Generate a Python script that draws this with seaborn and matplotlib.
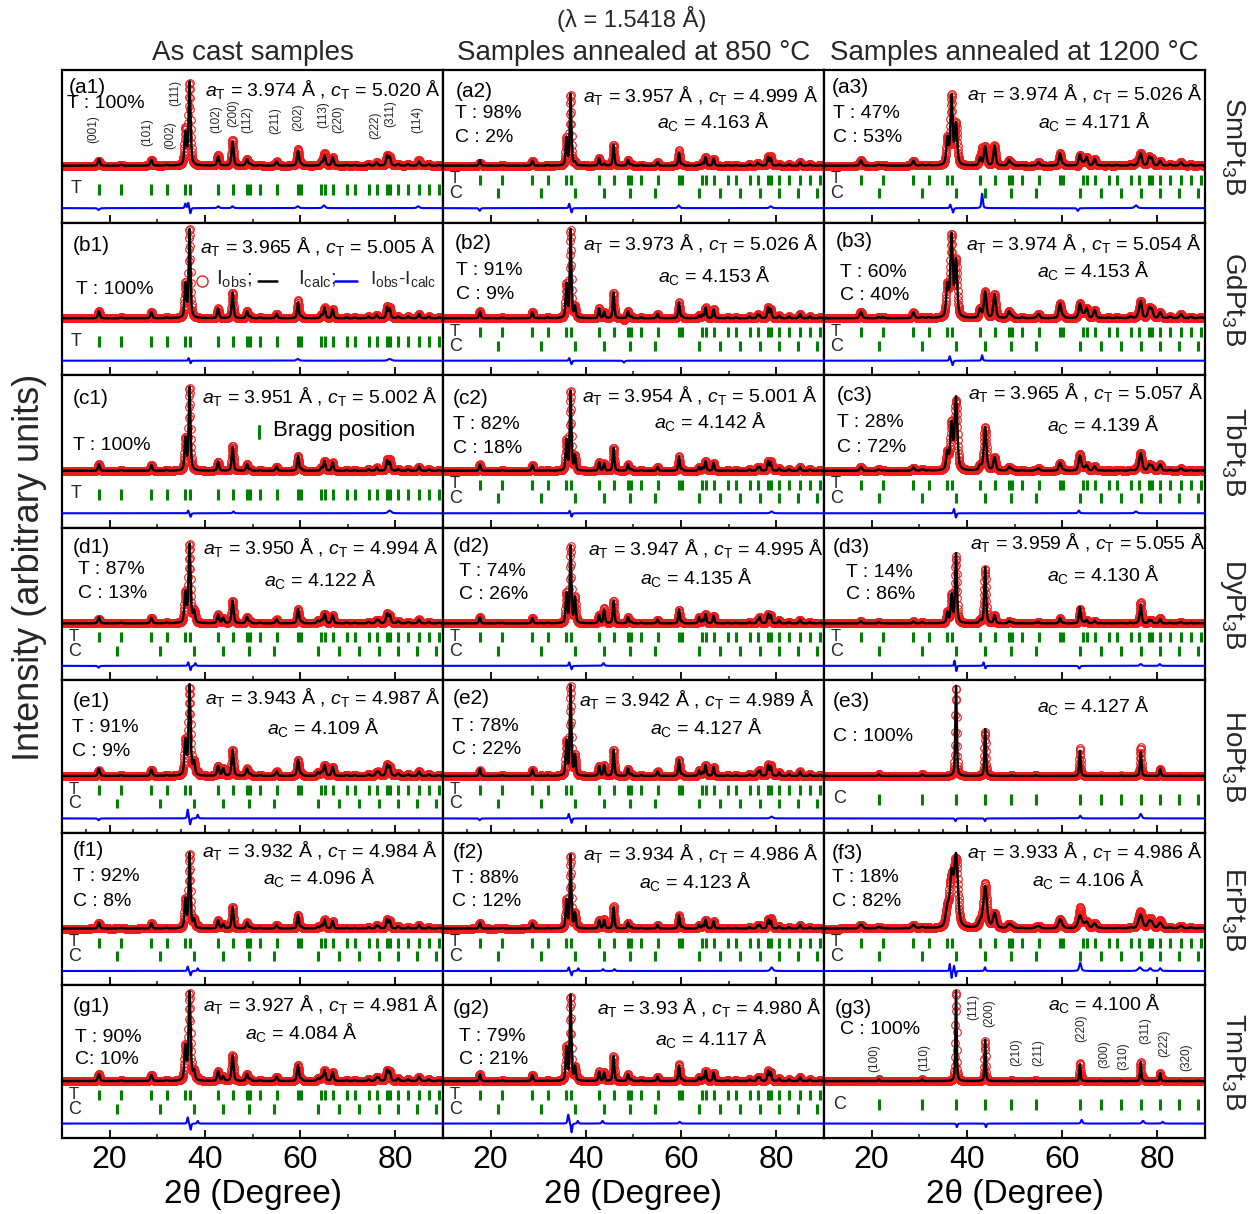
import numpy as np
import pandas as pd
import matplotlib
matplotlib.use("Agg")
import matplotlib.pyplot as plt
from matplotlib.ticker import FixedLocator, NullLocator
from matplotlib.transforms import blended_transform_factory
import seaborn as sns

# ------------------------------------------------------------------ data
compounds = ["SmPt$_3$B", "GdPt$_3$B", "TbPt$_3$B", "DyPt$_3$B",
             "HoPt$_3$B", "ErPt$_3$B", "TmPt$_3$B"]
column_titles = ["As cast samples", "Samples annealed at 850 °C",
                 "Samples annealed at 1200 °C"]
wavelength_text = "(λ = 1.5418 Å)"
panel_names = [f"({r}{c})" for r in "abcdefg" for c in (1, 2, 3)]

# tetragonal Bragg positions (2theta, deg) and relative intensities
T_pos = [17.74, 22.45, 28.76, 31.96, 35.92, 36.79, 42.78, 45.82, 48.84, 49.52,
         51.61, 55.05, 59.56, 60.25, 64.48, 65.14, 66.82, 69.76, 71.47, 74.36,
         76.05, 78.26, 78.82, 80.59, 82.66, 84.96, 87.02, 89.16]
T_rel = [8, 1, 7, 1, 38, 100, 11, 29, 8, 2,
         1, 5, 18, 2, 4, 12, 10, 1, 1, 2,
         4, 12, 10, 2, 2, 5, 2, 1]
# cubic Bragg positions; minor-line relative intensities (major lines per panel)
C_pos = [21.52, 30.61, 37.72, 43.84, 49.34, 54.41, 63.74, 68.11, 72.36,
         76.50, 80.58, 84.60, 88.60]
C_minor_rel = [2, 2, 0, 0, 1, 1, 0, 0.5, 0.5, 0, 0, 0.5, 0.5]
C_major_idx = [2, 3, 6, 9, 10]          # (111) (200) (220) (311) (222)

# per panel (row-major a1, a2, a3, b1, ...)
bragg_sets = ["T", "TC", "TC", "T", "TC", "TC", "T", "TC", "TC", "TC", "TC",
              "TC", "TC", "TC", "C", "TC", "TC", "TC", "TC", "TC", "C"]
phase_lines = [["T : 100%"], ["T : 98%", "C : 2%"], ["T : 47%", "C : 53%"],
               ["T : 100%"], ["T : 91%", "C : 9%"], ["T : 60%", "C : 40%"],
               ["T : 100%"], ["T : 82%", "C : 18%"], ["T : 28%", "C : 72%"],
               ["T : 87%", "C : 13%"], ["T : 74%", "C : 26%"], ["T : 14%", "C : 86%"],
               ["T : 91%", "C : 9%"], ["T : 78%", "C : 22%"], ["C : 100%"],
               ["T : 92%", "C : 8%"], ["T : 88%", "C : 12%"], ["T : 18%", "C : 82%"],
               ["T : 90%", "C: 10%"], ["T : 79%", "C : 21%"], ["C : 100%"]]
a_T = ["3.974", "3.957", "3.974", "3.965", "3.973", "3.974", "3.951", "3.954",
       "3.965", "3.950", "3.947", "3.959", "3.943", "3.942", None, "3.932",
       "3.934", "3.933", "3.927", "3.93", None]
c_T = ["5.020", "4.999", "5.026", "5.005", "5.026", "5.054", "5.002", "5.001",
       "5.057", "4.994", "4.995", "5.055", "4.987", "4.989", None, "4.984",
       "4.986", "4.986", "4.981", "4.980", None]
a_C = [None, "4.163", "4.171", None, "4.153", "4.153", None, "4.142", "4.139",
       "4.122", "4.135", "4.130", "4.109", "4.127", "4.127", "4.096", "4.123",
       "4.106", "4.084", "4.117", "4.100"]

# peak heights
T111_height = [92, 79, 76, 98, 98, 90, 92, 88, 50, 87, 85, 31, 100, 100, 0,
               83, 81, 55, 98, 95, 0]
C_major_height = [[0, 0, 0, 0, 0], [3, 2, 1, 1, 0], [45, 21, 12, 13, 4],
                  [0, 0, 0, 0, 0], [12, 7, 3, 3, 1], [62, 29, 16, 18, 5],
                  [0, 0, 0, 0, 0], [16, 8, 4, 4, 1], [80, 48, 17, 19, 6],
                  [12, 6, 3, 3, 1], [28, 15, 7, 7, 2], [77, 62, 18, 21, 4],
                  [14, 8, 4, 4, 1], [22, 12, 6, 6, 2], [100, 52, 28, 27, 8],
                  [9, 5, 2, 2, 1], [16, 9, 4, 4, 1], [78, 46, 14, 14, 5],
                  [10, 5, 3, 3, 1], [15, 9, 4, 4, 1], [100, 46, 19, 21, 9]]
fwhm_T = [0.5, 0.4, 0.55, 0.45, 0.4, 0.6, 0.45, 0.4, 0.6, 0.5, 0.4, 0.45,
          0.5, 0.4, 0.4, 0.45, 0.4, 0.8, 0.5, 0.4, 0.3]
fwhm_C = [0.5, 0.4, 0.6, 0.45, 0.4, 0.6, 0.45, 0.4, 0.65, 0.5, 0.4, 0.45,
          0.5, 0.4, 0.35, 0.45, 0.4, 0.9, 0.5, 0.4, 0.3]
# misfit features of Iobs - Icalc: (2theta, amplitude, width)
misfit = [
    [(35.9, 5, .3), (36.5, 6, .3), (36.95, -6, .3), (17.7, -2, .5), (42.8, 2, .5), (45.8, 2, .5), (59.5, 2, .6), (65, 3, .6), (84.8, 2, .6)],
    [(17.7, -3, .4), (36.5, 5, .3), (37.0, -5, .3), (59.5, 3, .5), (78.8, 2, .6)],
    [(36.5, 4, .3), (37.1, -5, .3), (43.2, 16, .35), (63.3, -3, .4), (75.5, 3, .7)],
    [(36.6, 3, .3), (37.0, -3, .3), (59.5, 2, .6), (78.8, 2, .8)],
    [(36.5, 3, .3), (37.0, -4, .3), (48, -2, .4)],
    [(36.4, 5, .3), (37.0, -5, .3), (43.2, 6, .3)],
    [(36.5, 3, .3), (37.0, -4, .3), (46, 2, .4), (78.8, 3, .8)],
    [(36.6, 3, .3), (37.0, -4, .3), (79, 2, .6)],
    [(37.3, 5, .3), (37.7, -5, .3), (63.5, 3, .4), (75.5, 2, .6)],
    [(36.5, 4, .3), (37.0, -5, .3), (38.0, 3, .3), (17.7, -2, .4)],
    [(36.5, 4, .3), (37.0, -4, .3), (43.7, 3, .4)],
    [(37.4, 6, .25), (37.8, -6, .25), (43.5, 4, .3), (43.9, -3, .3), (63.6, -3, .4), (76.5, 2, .5), (80.5, 2, .4)],
    [(36.4, 10, .3), (36.9, -7, .3), (38.5, 4, .3), (17.7, -2, .4)],
    [(36.4, 5, .3), (37.0, -5, .3), (17.7, -2, .4), (79, 2, .6)],
    [(37.6, -3, .3), (43.8, -3, .3), (63.8, 3, .4), (76.5, 5, .5)],
    [(36.4, 5, .3), (37.0, -5, .3), (38.5, 3, .3)],
    [(36.4, 4, .3), (37.0, -5, .3), (38.4, 3, .3), (43.6, 2, .4), (46, 2, .4), (79, 4, .6)],
    [(36.4, 8, .2), (36.8, -8, .2), (37.3, 6, .2), (37.7, -6, .2), (43.8, 4, .3), (63.8, 9, .5), (76.3, 4, .8), (78.5, 3, .6), (80.6, 3, .5)],
    [(36.4, 7, .3), (37.0, -7, .3), (38.5, 3, .3)],
    [(36.3, 10, .35), (37.0, -10, .3), (38.3, 3, .3), (43.5, 3, .4), (59.7, 2, .4)],
    [(37.9, -4, .25), (44.0, -4, .25), (64.1, 4, .4), (77, 3, .5), (81.1, 2, .4)],
]
hkl_a1 = ["(001)", "(101)", "(002)", "(111)", "(102)", "(200)", "(112)",
          "(211)", "(202)", "(113)", "(220)", "(222)", "(311)", "(114)"]
hkl_g3 = ["(100)", "(110)", "(111)", "(200)", "(210)", "(211)", "(220)",
          "(300)", "(310)", "(311)", "(222)", "(320)"]

# ------------------------------------------------------------------ layout
ROW_PX = 152.6
PX_PER_DEG = 381 / 80
YMIN, YMAX = -63.0, 106.0
TICK_SINGLE = (-32, -20)
TICK_T = (-21, -10)
TICK_C = (-36, -25)
DIFF_BASE = -47
label_xy = [(7, 16), (13, 20), (8, 16), (11, 21), (12, 19), (12, 17), (11, 21),
            (10, 21), (13, 18), (11, 18), (10, 17), (9, 18), (11, 19), (10, 16),
            (9, 19), (11, 16), (10, 18), (8, 19), (11, 19), (10, 21), (11, 21)]
phase_xy = [(5, 31, None), (12, 41, 65), (9, 41, 65), (14, 64, None), (13, 45, 69),
            (16, 47, 70), (11, 68, None), (10, 47, 71), (13, 45, 70), (16, 39, 63),
            (16, 41, 64), (22, 42, 64), (10, 45, 69), (9, 44, 67), (9, 54, None),
            (11, 41, 66), (9, 43, 66), (8, 42, 66), (13, 50, 72), (16, 49, 72),
            (16, 42, None)]
line1_xy = [(143, 19), (140, 25), (143, 23), (138, 23), (140, 20), (142, 20),
            (140, 21), (139, 20), (144, 17), (141, 19), (145, 20), (146, 14),
            (143, 17), (136, 19), None, (140, 17), (140, 20), (143, 18),
            (141, 19), (154, 22), None]
line2_xy = [None, (214, 51), (214, 51), None, (215, 52), (213, 47), None,
            (211, 46), (223, 49), (202, 51), (197, 49), (223, 46), (205, 47),
            (207, 47), (213, 25), (201, 44), (196, 48), (208, 46), (183, 47),
            (212, 53), (224, 18)]
hkl_a1_xy = [(16.5, .61), (28, .594), (32.8, .575), (33.7, .85), (42.3, .675),
             (46, .718), (49, .673), (54.7, .667), (59.6, .693), (64.8, .706),
             (68, .679), (75.7, .64), (78.9, .715), (84.5, .673)]
hkl_g3_xy = [(20.6, .525), (31.1, .53), (41.4, .856), (44.6, .816), (50.3, .56),
             (55.0, .56), (64.0, .72), (68.9, .55), (72.9, .535), (77.4, .705),
             (81.5, .62), (86.0, .53)]

RED = "#ee1c1c"
GREEN = "#008000"
BLUE = "#0000ff"

# ------------------------------------------------------------------ style
sns.set_theme(style="white")
plt.rcParams['font.family'] = ['Liberation Sans', 'DejaVu Sans']
plt.rcParams['mathtext.fontset'] = 'custom'
plt.rcParams['mathtext.rm'] = 'Liberation Sans'
plt.rcParams['mathtext.it'] = 'Liberation Sans:italic'
plt.rcParams['mathtext.bf'] = 'Liberation Sans:bold'
plt.rcParams['axes.edgecolor'] = 'black'


def pseudo_voigt(xg, centers, heights, widths):
    out = np.zeros_like(xg)
    for c0, h, w in zip(centers, heights, widths):
        u = (xg - c0) / (w / 2)
        out += h * (0.5 / (1 + u * u) + 0.5 * np.exp(-np.log(2) * u * u))
    return out


def put(ax, xrel, yc, s, size, ha='left'):
    tr = blended_transform_factory(ax.transData, ax.transAxes)
    cap = 0.716 * size * 100 / 72
    ax.text(10 + xrel / PX_PER_DEG, 1 - (yc + cap / 2) / ROW_PX, s,
            transform=tr, fontsize=size, va='baseline', ha=ha, color='black')


fig = plt.figure(figsize=(12.49, 12.14), dpi=100)
gs = fig.add_gridspec(7, 3, left=62 / 1249, right=1205 / 1249,
                      bottom=1 - 1138 / 1214, top=1 - 70 / 1214,
                      hspace=0, wspace=0)

x_calc = np.arange(10, 90.0001, 0.02)
x_obs = np.arange(10, 90.0001, 0.05)
axes = []
for i in range(21):
    r, c = divmod(i, 3)
    ax = fig.add_subplot(gs[r, c])
    axes.append(ax)
    tr = blended_transform_factory(ax.transData, ax.transAxes)

    t_heights = [T111_height[i] * v / 100 for v in T_rel]
    c_heights = [C_major_height[i][0] * v / 100 for v in C_minor_rel]
    for k, idx in enumerate(C_major_idx):
        c_heights[idx] = C_major_height[i][k]
    mis_pos = [m[0] for m in misfit[i]]
    mis_amp = [m[1] for m in misfit[i]]
    mis_w = [m[2] for m in misfit[i]]

    def calc_at(xg):
        return (pseudo_voigt(xg, T_pos, t_heights, [fwhm_T[i]] * len(T_pos)) +
                pseudo_voigt(xg, C_pos, c_heights, [fwhm_C[i]] * len(C_pos)))

    calc = calc_at(x_calc)
    diff = pseudo_voigt(x_calc, mis_pos, mis_amp, mis_w)
    obs = calc_at(x_obs) + pseudo_voigt(x_obs, mis_pos, mis_amp, mis_w)

    ax.plot(x_obs, obs, 'o', mfc='none', mec=RED, ms=5.5, mew=0.8, zorder=2)
    df = pd.DataFrame({"tt": x_calc, "calc": calc, "diff": diff + DIFF_BASE})
    sns.lineplot(data=df, x="tt", y="calc", ax=ax, color='black', lw=1.7,
                 estimator=None, zorder=3)
    sns.lineplot(data=df, x="tt", y="diff", ax=ax, color=BLUE, lw=1.5,
                 estimator=None, zorder=3)

    # Bragg ticks
    s = bragg_sets[i]
    if s == "T":
        ax.vlines(T_pos, *TICK_SINGLE, colors=GREEN, lw=2.2)
        ax.text(12.9, 0.222, "T", transform=tr, fontsize=13, ha='center',
                va='center', zorder=5)
    elif s == "C":
        ax.vlines(C_pos, *TICK_SINGLE, colors=GREEN, lw=2.2)
        ax.text(13.3, 0.222, "C", transform=tr, fontsize=13, ha='center',
                va='center', zorder=5)
    else:
        ax.vlines(T_pos, *TICK_T, colors=GREEN, lw=2.2)
        ax.vlines(C_pos, *TICK_C, colors=GREEN, lw=2.2)
        ax.text(12.4, 0.287, "T", transform=tr, fontsize=12, ha='center',
                va='center', zorder=5)
        ax.text(12.6, 0.19, "C", transform=tr, fontsize=13, ha='center',
                va='center', zorder=5)

    # annotations
    put(ax, label_xy[i][0], label_xy[i][1], panel_names[i], 15)
    px, py1, py2 = phase_xy[i]
    put(ax, px, py1, phase_lines[i][0], 14)
    if py2 is not None:
        put(ax, px, py2, phase_lines[i][1], 14)
    if a_T[i] is not None:
        put(ax, line1_xy[i][0], line1_xy[i][1],
            r"$a_{\rm T}$ = " + a_T[i] + r" Å , $c_{\rm T}$ = " + c_T[i] + " Å", 14)
    if a_C[i] is not None:
        put(ax, line2_xy[i][0], line2_xy[i][1],
            r"$a_{\rm C}$ = " + a_C[i] + " Å", 14)

    ax.set_xlim(10, 90)
    ax.set_ylim(YMIN, YMAX)
    ax.yaxis.set_major_locator(NullLocator())
    ax.xaxis.set_major_locator(FixedLocator([20, 40, 60, 80]))
    if r == 4:
        ax.xaxis.set_minor_locator(FixedLocator([15, 25, 30, 35, 45, 50, 55,
                                                 65, 70, 75, 85]))
    else:
        ax.xaxis.set_minor_locator(FixedLocator([30, 50, 70]))
    ax.tick_params(axis='x', which='major', direction='in', length=5.5,
                   width=1.3, bottom=True, top=False, labelsize=23, pad=5,
                   colors='black')
    ax.tick_params(axis='x', which='minor', direction='in', length=3,
                   width=1.2, bottom=True, top=False)
    ax.tick_params(axis='y', left=False, right=False, labelleft=False)
    for sp in ax.spines.values():
        sp.set_linewidth(1.6)
        sp.set_color('black')
    ax.set_ylabel("")
    if r == 6:
        ax.set_xlabel("2θ (Degree)", fontsize=24, labelpad=3, color='black')
    else:
        ax.set_xlabel("")
        ax.tick_params(axis='x', labelbottom=False)

# hkl labels
tr = blended_transform_factory(axes[0].transData, axes[0].transAxes)
for s, (xx, yy) in zip(hkl_a1, hkl_a1_xy):
    axes[0].text(xx, yy, s, transform=tr, rotation=90, fontsize=8.5,
                 ha='center', va='center')
tr = blended_transform_factory(axes[20].transData, axes[20].transAxes)
for s, (xx, yy) in zip(hkl_g3, hkl_g3_xy):
    axes[20].text(xx, yy, s, transform=tr, rotation=90, fontsize=8.5,
                  ha='center', va='center')

# legend in (b1)
ax = axes[3]
tra = blended_transform_factory(ax.transData, ax.transAxes)
def deg(xrel):
    return 10 + xrel / PX_PER_DEG
yl = 1 - 58.5 / ROW_PX
ax.plot([deg(139.7)], [yl], 'o', mfc='none', mec=RED, ms=8, mew=1, transform=tra)
ax.plot([deg(196), deg(215)], [yl, yl], color='black', lw=1.8, transform=tra)
ax.plot([deg(273), deg(295)], [yl, yl], color=BLUE, lw=1.8, transform=tra)
yb = 1 - 61.8 / ROW_PX
ax.text(deg(154), yb, r"$\mathrm{I_{obs}}$;", transform=tra, fontsize=15, va='baseline')
ax.text(deg(236), yb, r"$\mathrm{I_{calc}}$;", transform=tra, fontsize=15, va='baseline')
ax.text(deg(308), yb, r"$\mathrm{I_{obs}}$-$\mathrm{I_{calc}}$", transform=tra,
        fontsize=14, va='baseline')

# Bragg position legend in (c1)
ax = axes[6]
tra = blended_transform_factory(ax.transData, ax.transAxes)
ax.plot([51.4, 51.4], [1 - 63 / ROW_PX, 1 - 51 / ROW_PX], color=GREEN, lw=2.2,
        transform=tra)
put(ax, 211, 53, "Bragg position", 16)

# figure texts
for c in range(3):
    p = axes[c].get_position()
    fig.text((p.x0 + p.x1) / 2, 1 - 60 / 1214, column_titles[c], fontsize=20,
             ha='center', va='baseline')
fig.text(0.506, 1 - 27 / 1214, wavelength_text, fontsize=17, ha='center',
         va='baseline')
for r in range(7):
    p = axes[3 * r + 2].get_position()
    fig.text(0.987, (p.y0 + p.y1) / 2, compounds[r], rotation=270, fontsize=20,
             ha='center', va='center')
fig.text(0.024, 0.533, "Intensity (arbitrary units)", rotation=90, fontsize=26,
         ha='center', va='center')

fig.savefig("out.png", dpi=100)
